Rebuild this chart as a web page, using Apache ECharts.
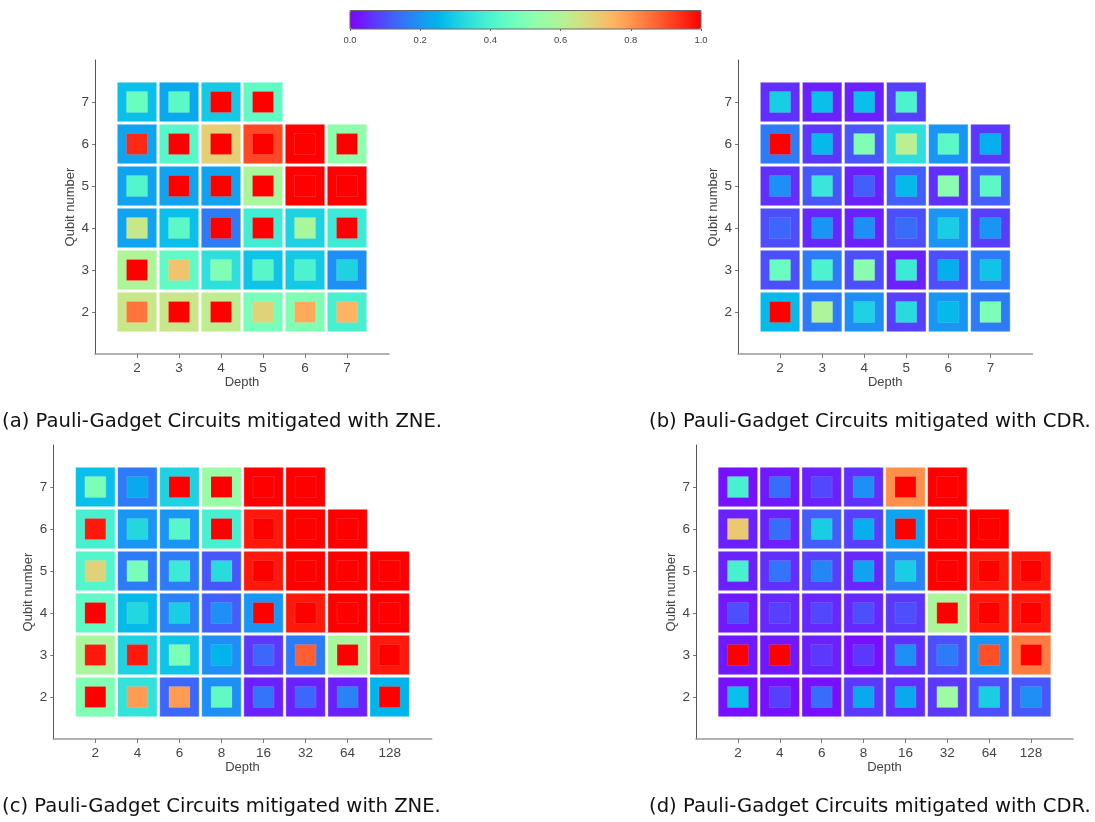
<!DOCTYPE html>
<html><head><meta charset="utf-8">
<script src="https://cdn.jsdelivr.net/npm/echarts@6/dist/echarts.min.js"></script>
<style>html,body{margin:0;padding:0;background:#fff}#c{width:1095px;height:822px}</style>
</head><body><div id="c"></div>
<script>
// ---------- data ----------
const depthsAB = ['2','3','4','5','6','7'];
const depthsCD = ['2','4','6','8','16','32','64','128'];
const qubitRows = ['7','6','5','4','3','2'];       // row order of the value arrays (top to bottom)
const qubitTicks = ['2','3','4','5','6','7'];
const colorbarTicks = [0, 0.2, 0.4, 0.6, 0.8, 1.0];

// (a) ZNE, depths 2..7 — outer square / inner square
const zneA_outer = [
  [0.27, 0.23, 0.29, 0.44, null, null],
  [0.22, 0.42, 0.70, 0.91, 1.00, 0.53],
  [0.22, 0.22, 0.22, 0.58, 1.00, 1.00],
  [0.22, 0.27, 0.16, 0.38, 0.31, 0.37],
  [0.59, 0.44, 0.34, 0.28, 0.29, 0.19],
  [0.64, 0.64, 0.62, 0.48, 0.50, 0.39]
];
const zneA_inner = [
  [0.46, 0.43, 1.00, 1.00, null, null],
  [0.95, 1.00, 1.00, 1.00, 1.00, 1.00],
  [0.41, 1.00, 1.00, 1.00, 1.00, 1.00],
  [0.64, 0.43, 1.00, 1.00, 0.58, 1.00],
  [1.00, 0.72, 0.50, 0.42, 0.40, 0.31],
  [0.85, 1.00, 1.00, 0.69, 0.77, 0.75]
];
// (b) CDR, depths 2..7
const cdrB_outer = [
  [0.06, 0.04, 0.04, 0.08, null, null],
  [0.16, 0.07, 0.11, 0.34, 0.20, 0.07],
  [0.06, 0.11, 0.04, 0.12, 0.06, 0.12],
  [0.10, 0.05, 0.04, 0.10, 0.20, 0.08],
  [0.10, 0.16, 0.10, 0.04, 0.10, 0.16],
  [0.26, 0.16, 0.19, 0.08, 0.20, 0.16]
];
const cdrB_inner = [
  [0.30, 0.27, 0.27, 0.40, null, null],
  [1.00, 0.26, 0.50, 0.61, 0.43, 0.24],
  [0.19, 0.36, 0.12, 0.26, 0.52, 0.43],
  [0.13, 0.20, 0.19, 0.14, 0.30, 0.20],
  [0.46, 0.40, 0.52, 0.37, 0.24, 0.28],
  [1.00, 0.59, 0.31, 0.33, 0.26, 0.49]
];
// (c) ZNE, depths 2..128
const zneC_outer = [
  [0.27, 0.16, 0.31, 0.55, 1.00, 1.00, null, null],
  [0.39, 0.20, 0.20, 0.39, 0.97, 1.00, 1.00, null],
  [0.41, 0.16, 0.16, 0.11, 0.97, 1.00, 1.00, 1.00],
  [0.44, 0.26, 0.17, 0.12, 0.20, 0.97, 1.00, 1.00],
  [0.58, 0.31, 0.28, 0.19, 0.07, 0.16, 0.58, 0.97],
  [0.50, 0.35, 0.13, 0.19, 0.04, 0.04, 0.04, 0.25]
];
const zneC_inner = [
  [0.49, 0.23, 1.00, 1.00, 1.00, 1.00, null, null],
  [0.97, 0.32, 0.42, 1.00, 1.00, 1.00, 1.00, null],
  [0.69, 0.48, 0.37, 0.33, 1.00, 1.00, 1.00, 1.00],
  [1.00, 0.32, 0.30, 0.19, 1.00, 1.00, 1.00, 1.00],
  [0.97, 0.97, 0.49, 0.25, 0.13, 0.88, 1.00, 1.00],
  [1.00, 0.79, 0.79, 0.44, 0.15, 0.13, 0.17, 1.00]
];
// (d) CDR, depths 2..128
const cdrD_outer = [
  [0.02, 0.03, 0.04, 0.06, 0.81, 1.00, null, null],
  [0.04, 0.04, 0.12, 0.08, 0.22, 1.00, 1.00, null],
  [0.04, 0.06, 0.08, 0.05, 0.17, 1.00, 0.97, 0.97],
  [0.03, 0.05, 0.05, 0.05, 0.07, 0.59, 0.97, 0.97],
  [0.03, 0.03, 0.04, 0.02, 0.06, 0.10, 0.20, 0.84],
  [0.02, 0.02, 0.02, 0.07, 0.06, 0.07, 0.10, 0.11]
];
const cdrD_inner = [
  [0.39, 0.14, 0.09, 0.19, 1.00, 1.00, null, null],
  [0.71, 0.14, 0.30, 0.24, 1.00, 1.00, 1.00, null],
  [0.39, 0.15, 0.18, 0.22, 0.30, 1.00, 1.00, 1.00],
  [0.10, 0.08, 0.09, 0.10, 0.10, 1.00, 1.00, 1.00],
  [1.00, 1.00, 0.07, 0.07, 0.19, 0.16, 0.90, 1.00],
  [0.27, 0.08, 0.14, 0.23, 0.23, 0.56, 0.30, 0.19]
];
const captions = [
  '(a) Pauli-Gadget Circuits mitigated with ZNE.',
  '(b) Pauli-Gadget Circuits mitigated with CDR.',
  '(c) Pauli-Gadget Circuits mitigated with ZNE.',
  '(d) Pauli-Gadget Circuits mitigated with CDR.'
];

// ---------- colormap (matplotlib "rainbow") ----------
function rainbow(t) {
  const r = Math.min(1, Math.abs(2 * t - 0.5));
  const g = Math.sin(Math.PI * t);
  const b = Math.cos(Math.PI * t / 2);
  const h = v => Math.round(Math.max(0, Math.min(1, v)) * 255);
  return 'rgb(' + h(r) + ',' + h(g) + ',' + h(b) + ')';
}
const cmap = [];
for (let i = 0; i <= 40; i++) cmap.push(rainbow(i / 40));

// ---------- layout ----------
const panels = [
  { depths: depthsAB, outer: zneA_outer, inner: zneA_inner, grid: { left: 95, top: 60, width: 294, height: 294 } },
  { depths: depthsAB, outer: cdrB_outer, inner: cdrB_inner, grid: { left: 738, top: 60, width: 294.5, height: 294 } },
  { depths: depthsCD, outer: zneC_outer, inner: zneC_inner, grid: { left: 53.3, top: 445, width: 378.4, height: 294 } },
  { depths: depthsCD, outer: cdrD_outer, inner: cdrD_inner, grid: { left: 696, top: 445, width: 377, height: 294 } }
];
const txt = '#444';
const font = 'Liberation Sans, Arial, sans-serif';
const showNonEmpty = (i, v) => v !== '';

const grid = [], xAxis = [], yAxis = [], series = [];
panels.forEach((p, k) => {
  grid.push(Object.assign({ containLabel: false }, p.grid));
  xAxis.push({
    gridIndex: k, type: 'category', data: [''].concat(p.depths, ['']), boundaryGap: false,
    axisLine: { lineStyle: { color: '#999', width: 1.5 } },
    axisTick: { show: true, interval: showNonEmpty, length: 4, lineStyle: { color: '#777' } },
    axisLabel: { interval: showNonEmpty, margin: 7, fontSize: 13.5, color: txt, fontFamily: font },
    splitLine: { show: false },
    name: 'Depth', nameLocation: 'middle', nameGap: 22,
    nameTextStyle: { fontSize: 13, color: txt, fontFamily: font }
  });
  yAxis.push({
    gridIndex: k, type: 'category', data: [''].concat(qubitTicks, ['']), boundaryGap: false,
    axisLine: { lineStyle: { color: '#555', width: 1 } },
    axisTick: { show: true, interval: showNonEmpty, length: 3, lineStyle: { color: '#777' } },
    axisLabel: { interval: showNonEmpty, margin: 6, fontSize: 13.5, color: txt, fontFamily: font },
    splitLine: { show: false },
    name: 'Qubit number', nameLocation: 'middle', nameGap: 18,
    nameTextStyle: { fontSize: 13, color: txt, fontFamily: font }
  });
  const build = arr => {
    const out = [];
    arr.forEach((row, r) => row.forEach((v, c) => {
      if (v !== null) out.push([p.depths[c], qubitRows[r], v]);
    }));
    return out;
  };
  series.push({
    type: 'scatter', xAxisIndex: k, yAxisIndex: k, data: build(p.outer),
    symbol: 'rect', symbolSize: 39.5, z: 2, silent: true,
    itemStyle: { opacity: 1, borderColor: 'rgba(255,255,255,0.5)', borderWidth: 0.8 }
  });
  series.push({
    type: 'scatter', xAxisIndex: k, yAxisIndex: k, data: build(p.inner),
    symbol: 'rect', symbolSize: 21, z: 3, silent: true,
    itemStyle: { opacity: 1, borderColor: 'rgba(255,255,255,0.12)', borderWidth: 1 }
  });
});

// colorbar frame + tick axis
grid.push({ left: 350, top: 10.5, width: 351, height: 18.5, show: true, borderColor: '#666', borderWidth: 1, backgroundColor: 'transparent', z: 10 });
xAxis.push({
  gridIndex: 4, type: 'value', min: colorbarTicks[0], max: colorbarTicks[colorbarTicks.length - 1], interval: 0.2,
  axisLine: { show: false }, axisTick: { show: true, length: 2, lineStyle: { color: '#666' } },
  splitLine: { show: false },
  axisLabel: { margin: 6, fontSize: 9.5, color: txt, fontFamily: font, formatter: v => v.toFixed(1) }
});
yAxis.push({ gridIndex: 4, type: 'value', show: false, min: 0, max: 1 });

const graphic = captions.map((t, i) => ({
  type: 'text',
  x: (i % 2 === 0) ? 2 : 649,
  y: (i < 2) ? 421.5 : 807,
  style: { text: t, font: '19.6px "DejaVu Sans"', fill: '#111', verticalAlign: 'middle', align: 'left' }
}));

const chart = echarts.init(document.getElementById('c'), null, { renderer: 'canvas' });
chart.setOption({
  animation: false,
  backgroundColor: '#fff',
  grid, xAxis, yAxis, series, graphic,
  visualMap: {
    type: 'continuous', min: 0, max: 1, orient: 'horizontal',
    left: 350, top: 10.5, itemWidth: 18.5, itemHeight: 351, padding: 0,
    calculable: false, hoverLink: false, text: null,
    seriesIndex: [0, 1, 2, 3, 4, 5, 6, 7], dimension: 2,
    inRange: { color: cmap }
  }
});
</script></body></html>
